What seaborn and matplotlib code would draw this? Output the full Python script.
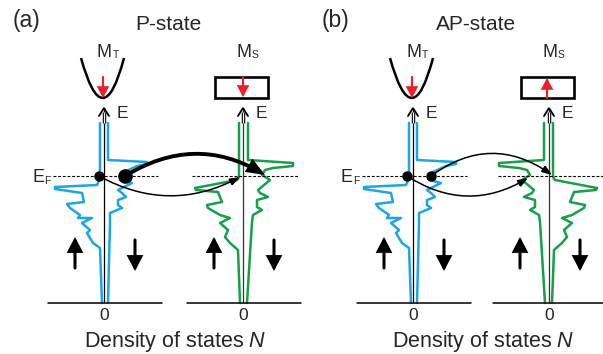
import numpy as np
import seaborn as sns
import matplotlib.pyplot as plt
from matplotlib.path import Path
from matplotlib.patches import PathPatch, Rectangle, FancyArrowPatch

sns.set_theme(style="white")
plt.rcParams['font.family'] = ['Liberation Sans', 'DejaVu Sans']
plt.rcParams['mathtext.fontset'] = 'custom'
plt.rcParams['mathtext.rm'] = 'Liberation Sans'
plt.rcParams['mathtext.it'] = 'Liberation Sans:italic'

# Density of states profiles: E measured from E_F (up positive), N measured from the axis
E_TIP_UP = [53, -2, -9, -11, -13, -17, -26, -28, -32, -39, -42, -42, -47, -54, -57, -67, -72, -127]
N_TIP_UP = [4, 4, 7, 49, 49, 22, 20, 37, 34, 24, 26, 12, 22, 14, 17, 11, 4, 2]
E_TIP_DN = [53, 16, 14, 12, 10, 3, 0, -4, -7, -14, -17, -21, -24, -29, -32, -37, -47, -127]
N_TIP_DN = [4, 4, 43, 43, 33, 18, 17, 16, 28, 14, 18, 22, 14, 14, 18, 6, 6, 4]
E_SMP_UP = [53, -1, -4, -12, -14, -16, -26, -29, -32, -39, -42, -47, -54, -61, -67, -74, -127]
N_SMP_UP = [4, 4, 6, 48, 47, 25, 21, 36, 35, 23, 13, 23, 15, 18, 13, 5, 3]
E_SMP_DN = [53, 16, 13, 10, 8, 6, 1, -4, -14, -17, -21, -24, -31, -34, -39, -46, -127]
N_SMP_DN = [5, 5, 50, 50, 30, 22, 19, 27, 15, 17, 25, 14, 14, 19, 10, 9, 4]

PANEL_LABELS = ["(a)", "(b)"]
PANEL_TITLES = ["P-state", "AP-state"]
TICK_LABEL = "0"
X_LABEL = "Density of states $N$"

BLUE = '#1ba6e6'
GREEN = '#17a04a'
RED = '#e8202a'

EF_Y = 176
BASE_Y = 303
TOP_Y = 108

fig = plt.figure(figsize=(6.03, 3.54), dpi=100)
ax = fig.add_axes([0, 0, 1, 1])


def dos_curve(x0, E, N, side, color):
    xs = x0 + side * np.asarray(N, float)
    ys = EF_Y - np.asarray(E, float)
    sns.lineplot(x=xs, y=ys, sort=False, estimator=None, color=color,
                 lw=1.8, ax=ax, legend=False)


def sub_label(x, y, main, sub, size=13, sub_size=7.5, sub_dx=16, sub_dy=1):
    ax.text(x, y, main, fontsize=size, ha='left', va='baseline')
    ax.text(x + sub_dx, y + sub_dy, sub, fontsize=sub_size, ha='left', va='baseline')


def energy_axis(x0, color='black'):
    ax.plot([x0, x0], [BASE_Y, TOP_Y], color=color, lw=0.9, solid_capstyle='butt')
    # hollow shaft just below the arrow head
    ax.plot([x0, x0], [112, 123], color='black', lw=2.5, solid_capstyle='butt')
    ax.plot([x0, x0], [112, 123], color='white', lw=0.9, solid_capstyle='butt')
    ax.plot([x0 - 5, x0, x0 + 5], [116, TOP_Y, 116], color='black', lw=1.3,
            solid_joinstyle='miter')
    ax.text(x0 + 13, 118, "E", fontsize=12.5, ha='left', va='baseline')
    ax.plot([x0 - 56, x0 + 58], [BASE_Y, BASE_Y], color='black', lw=1.1)
    ax.text(x0, 316, TICK_LABEL, fontsize=12.5, ha='center', va='center')


def arrow(p0, p1, lw, hl, hw, color='black', rad=0.0):
    ax.add_patch(FancyArrowPatch(p0, p1, connectionstyle=f"arc3,rad={rad}",
                                 arrowstyle=f"-|>,head_length={hl},head_width={hw}",
                                 mutation_scale=10, lw=lw, color=color,
                                 shrinkA=0, shrinkB=0, joinstyle='miter', zorder=5))


def parabola(x0):
    verts = [(x0 - 22, 58), (x0, 138), (x0 + 21, 58)]
    ax.add_patch(PathPatch(Path(verts, [Path.MOVETO, Path.CURVE3, Path.CURVE3]),
                           fill=False, lw=1.8, color='black'))


for i, (tip_x, smp_x) in enumerate([(104, 243), (413, 549)]):
    flipped = i == 1
    # tip DOS
    dos_curve(tip_x, E_TIP_UP, N_TIP_UP, -1, BLUE)
    dos_curve(tip_x, E_TIP_DN, N_TIP_DN, +1, BLUE)
    # sample DOS (spin channels swap in the antiparallel state)
    if flipped:
        dos_curve(smp_x, E_SMP_DN, N_SMP_DN, -1, GREEN)
        dos_curve(smp_x, E_SMP_UP, N_SMP_UP, +1, GREEN)
    else:
        dos_curve(smp_x, E_SMP_UP, N_SMP_UP, -1, GREEN)
        dos_curve(smp_x, E_SMP_DN, N_SMP_DN, +1, GREEN)

    energy_axis(tip_x)
    energy_axis(smp_x, color='#333333')

    # Fermi level
    ax.plot([tip_x - 51, tip_x + 54], [EF_Y, EF_Y], color='black', lw=0.8,
            ls=(0, (2.6, 1.6)))
    ax.plot([smp_x - 51, smp_x + 56], [EF_Y, EF_Y], color='black', lw=0.8,
            ls=(0, (2.6, 1.6)))
    sub_label(tip_x - 72, 182, "E", "F", sub_dx=12.5, sub_dy=1.5)

    # spin channel arrows
    for x0 in (tip_x, smp_x):
        arrow((x0 - 29, 268), (x0 - 29, 237), 2.2, 0.8, 0.42)
        arrow((x0 + 31, 240), (x0 + 31, 271), 2.2, 0.8, 0.42)

    # magnetization icons
    parabola(tip_x - 1)
    arrow((tip_x - 1, 77), (tip_x - 1, 98), 1.6, 0.6, 0.32, color=RED)
    ax.add_patch(Rectangle((smp_x - 28, 77), 53, 21, fill=False, lw=1.9,
                           edgecolor='black'))
    if flipped:
        arrow((smp_x - 2, 98), (smp_x - 2, 78), 1.6, 0.6, 0.32, color=RED)
    else:
        arrow((smp_x, 77), (smp_x, 97), 1.6, 0.6, 0.32, color=RED)
    sub_label(tip_x - 7, 57, "M", "T")
    sub_label(smp_x - 7, 57, "M", "S")

    # titles and labels
    ax.text(tip_x - 91, 27, PANEL_LABELS[i], fontsize=16.5, ha='left', va='baseline')
    mid = (tip_x + smp_x) / 2
    ax.text(mid - 5, 30, PANEL_TITLES[i], fontsize=15, ha='center', va='baseline')
    ax.text(mid + 2, 347, X_LABEL, fontsize=15.5, ha='center', va='baseline')

# tunneling paths, parallel state
arrow((125, 176), (265, 175), 2.8, 0.85, 0.34, rad=-0.3)
arrow((99, 176), (240, 177), 1.1, 0.6, 0.22, rad=0.27)
ax.plot([99], [176], 'o', color='black', ms=6.5, zorder=6)
ax.plot([125], [176], 'o', color='black', ms=9.5, zorder=6)

# tunneling paths, antiparallel state
arrow((431, 176), (552, 175), 1.1, 0.6, 0.22, rad=-0.36)
arrow((407, 176), (528, 178), 1.1, 0.6, 0.22, rad=0.31)
ax.plot([407], [176], 'o', color='black', ms=6.5, zorder=6)
ax.plot([431], [176], 'o', color='black', ms=6.5, zorder=6)

ax.set_xlim(0, 603)
ax.set_ylim(354, 0)
ax.axis('off')
fig.savefig("out.png", dpi=100)
